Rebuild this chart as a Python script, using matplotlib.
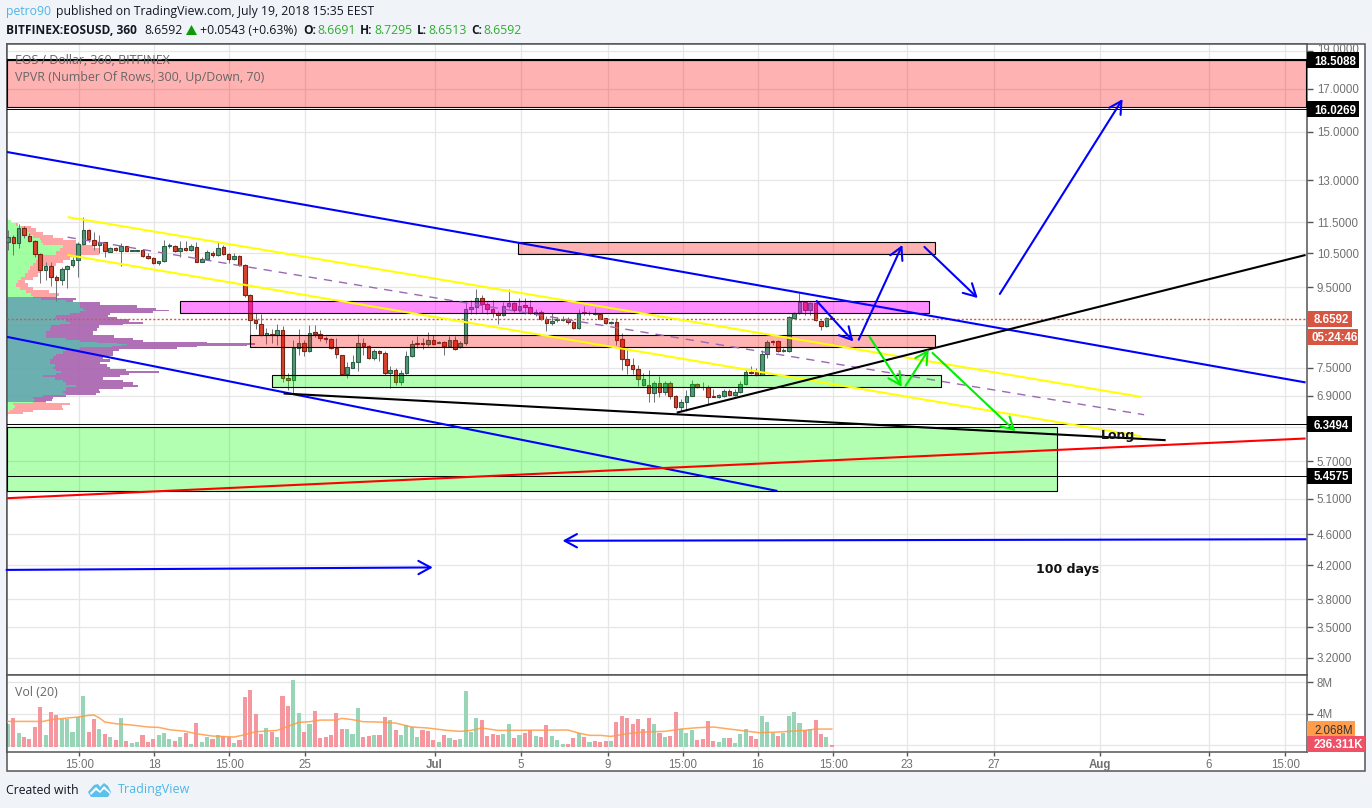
import matplotlib
matplotlib.use("Agg")
import matplotlib.pyplot as plt
import numpy as np
from matplotlib.patches import Rectangle, Polygon
from matplotlib.ticker import NullFormatter, NullLocator
from matplotlib.transforms import ScaledTranslation

W, H = 1372, 808
opens = [10.83,11.02,10.81,11.30,11.04,10.89,10.47,9.99,10.10,9.78,
 9.69,10.02,10.13,10.28,10.78,11.25,10.92,10.75,10.84,10.54,
 10.65,10.56,10.71,10.56,10.56,10.58,10.40,10.34,10.19,10.25,
 10.71,10.71,10.56,10.65,10.59,10.68,10.24,10.33,10.50,10.44,
 10.68,10.47,10.31,10.40,10.13,9.28,8.62,8.52,8.25,8.28,
 8.26,8.38,7.28,7.23,7.95,8.06,7.87,8.33,8.27,8.18,
 8.16,7.95,7.78,7.35,7.50,7.62,8.06,7.98,7.72,7.87,
 7.83,7.38,7.45,7.18,7.38,7.76,8.05,8.05,8.03,8.13,
 8.07,8.08,7.98,8.13,7.96,8.06,8.91,8.96,9.20,9.03,
 8.91,8.81,8.74,8.99,9.06,8.89,9.01,8.96,8.77,8.84,
 8.65,8.55,8.62,8.62,8.65,8.58,8.42,8.82,8.81,8.79,
 8.77,8.67,8.54,8.57,8.16,7.69,7.55,7.47,7.12,7.12,
 6.97,7.16,6.99,7.16,6.90,6.68,6.78,6.90,7.15,7.09,
 7.08,6.89,6.87,6.90,7.01,6.91,6.98,7.15,7.41,7.40,
 7.34,7.81,8.11,8.11,7.87,7.88,8.68,8.80,9.09,8.89,
 9.06,8.61,8.47,8.6691]
highs = [11.22,11.07,11.44,11.37,11.13,10.91,10.50,10.24,10.24,9.85,
 10.09,10.14,10.39,10.86,11.67,11.27,11.16,11.08,10.86,10.70,
 10.70,10.81,10.72,10.59,10.60,10.60,10.50,10.37,10.27,10.91,
 10.81,10.75,10.88,10.88,10.78,10.86,10.39,10.60,10.55,10.86,
 10.75,10.50,10.50,10.45,10.17,9.30,8.80,8.79,8.43,8.39,
 8.52,8.47,7.38,8.14,8.40,8.14,8.50,8.50,8.38,8.22,
 8.18,8.18,7.79,7.63,7.79,8.28,8.18,8.02,7.92,7.90,
 7.87,7.53,7.49,7.44,7.87,8.14,8.22,8.18,8.33,8.25,
 8.12,8.12,8.22,8.22,8.12,9.06,9.15,9.45,9.27,9.10,
 9.15,8.85,9.10,9.45,9.10,9.20,9.20,9.15,8.91,8.88,
 8.73,8.80,8.71,8.73,8.70,8.60,8.91,8.98,8.86,8.94,
 8.81,8.68,8.61,8.68,8.30,7.94,7.71,7.56,7.38,7.44,
 7.21,7.31,7.21,7.21,6.92,6.83,7.02,7.24,7.17,7.18,
 7.13,7.05,6.94,7.05,7.05,7.05,7.21,7.47,7.54,7.49,
 7.90,8.14,8.14,8.14,7.94,8.73,8.84,9.35,9.10,9.10,
 9.10,8.63,8.70,8.7295]
lows = [10.60,10.45,10.65,10.97,10.86,10.37,9.61,9.70,9.52,9.12,
 9.56,9.47,10.09,9.80,10.76,10.86,10.60,10.50,10.39,10.52,
 10.55,10.12,10.55,10.55,10.55,10.37,10.32,10.17,10.15,10.23,
 10.65,10.52,10.39,10.55,10.55,10.22,10.22,10.31,10.39,10.42,
 10.45,10.19,10.29,10.11,9.24,8.22,8.39,8.22,8.04,8.06,
 8.02,7.19,7.03,6.96,7.79,7.75,7.85,8.20,8.10,8.06,
 7.92,7.71,7.34,7.28,7.49,7.42,7.79,7.70,7.67,7.64,
 7.33,7.07,7.13,7.13,7.35,7.73,7.94,7.91,7.98,8.01,
 8.05,7.79,7.97,7.90,7.95,8.02,8.78,8.78,8.80,8.78,
 8.71,8.53,8.72,8.94,8.84,8.84,8.78,8.78,8.72,8.63,
 8.34,8.49,8.57,8.59,8.53,8.40,8.40,8.74,8.75,8.74,
 8.64,8.52,8.52,8.02,7.44,7.35,7.35,7.10,7.10,6.77,
 6.78,6.88,6.91,6.83,6.65,6.60,6.61,6.89,7.06,7.02,
 6.71,6.87,6.85,6.88,6.90,6.89,6.97,7.13,7.35,7.32,
 7.33,7.72,8.02,7.85,7.86,7.86,8.65,8.78,8.74,8.75,
 8.60,8.38,8.45,8.6513]
closes = [11.02,10.81,11.30,11.06,10.89,10.47,9.99,10.10,9.78,9.69,
 10.02,10.10,10.28,10.78,11.25,10.93,10.75,10.84,10.56,10.65,
 10.59,10.71,10.56,10.58,10.58,10.42,10.34,10.19,10.25,10.71,
 10.75,10.56,10.65,10.59,10.71,10.24,10.33,10.53,10.44,10.65,
 10.47,10.31,10.40,10.13,9.28,8.62,8.55,8.25,8.30,8.25,
 8.38,7.28,7.23,7.95,8.06,7.87,8.30,8.27,8.18,8.15,
 7.94,7.81,7.35,7.51,7.62,8.06,7.98,7.72,7.87,7.82,
 7.38,7.45,7.18,7.38,7.76,8.04,8.03,8.03,8.13,8.03,
 8.09,7.98,8.13,7.92,8.06,8.91,8.96,9.20,9.03,8.90,
 8.80,8.74,8.99,9.06,8.89,8.99,8.97,8.80,8.84,8.65,
 8.55,8.60,8.64,8.64,8.57,8.42,8.80,8.80,8.80,8.80,
 8.66,8.55,8.57,8.13,7.69,7.55,7.46,7.25,7.25,6.97,
 7.16,6.99,7.16,6.90,6.68,6.78,6.90,7.15,7.09,7.08,
 6.88,6.87,6.91,7.01,6.92,6.98,7.15,7.40,7.39,7.34,
 7.81,8.09,8.09,7.87,7.90,8.70,8.80,9.09,8.89,9.06,
 8.62,8.47,8.67,8.6592]

volume = [2.92,3.68,1.78,1.27,1.02,2.54,5.08,1.52,4.44,4.06,3.55,3.55,1.90,3.81,6.47,1.90,3.55,2.28,1.65,1.27,
 0.89,3.68,0.76,0.51,0.63,1.52,0.63,1.02,1.52,1.78,1.02,0.76,1.27,1.78,0.38,3.05,0.63,1.27,1.02,1.52,
 1.40,1.27,0.51,0.89,6.35,7.23,4.19,1.65,2.41,1.90,1.27,6.47,5.20,8.50,4.31,1.90,2.92,4.57,1.14,1.27,
 1.52,4.31,2.28,2.28,1.65,4.95,1.27,1.40,1.52,1.52,3.81,3.43,2.16,1.52,2.79,2.54,1.27,2.16,2.03,
 0.89,0.63,1.52,1.14,0.89,1.02,7.11,1.90,3.68,3.43,1.40,1.65,1.52,1.65,2.92,1.14,1.52,1.78,2.16,1.40,
 1.27,2.79,1.40,0.89,0.38,0.38,1.14,1.78,1.27,0.63,0.76,0.63,0.76,0.76,3.17,3.93,3.68,2.92,3.55,2.28,
 3.68,2.92,1.78,1.27,1.40,4.44,2.28,1.78,2.16,0.89,1.02,3.30,0.76,0.63,1.14,1.14,0.51,1.65,2.28,1.40,
 1.02,3.93,3.17,1.78,1.40,1.73,3.93,4.44,3.05,2.16,2.28,3.43,1.65,1.27,0.25]
volume_side = ("grgrrrrgrr" "gggggrrgrg" "rgrggrrrgg" "grgrgrggrg" "rrgrrrrrgr" "grrggrgrrr" "rrrgggrrgr" "rgrggggrr"
 "rgrgrggggr" "rrrggrgrrg" "rrgggrrgrg" "rrrgrrrrrr" "rgrgrrgggr" "rrrggrgggr" "rgggrggggr" "grrgr")
ma_index = [0,6.5,8,11,13,15,16,17,18,20,23,26,28,30,33,35,38,42,44,46,50,52,54,56,58,61,62,64,66,69,72,75,78,
 81.5,84,86,88,91,104,106,108,110,112,115,118,122,125,128,131,134,137,139.5,143,146,148,150,153]
ma_value = [3.21,3.21,3.43,3.64,3.76,3.98,4.02,3.64,3.13,2.92,2.75,2.50,2.45,2.16,1.95,1.65,1.35,1.23,1.52,1.90,2.07,2.58,3.09,3.17,3.38,3.38,3.60,3.43,3.17,3.13,3.00,2.50,2.37,
 2.07,1.95,2.07,2.37,2.07,2.12,1.73,1.44,1.44,1.31,1.65,1.86,1.95,2.24,2.41,2.50,2.24,1.99,1.78,1.86,1.99,2.07,2.24,2.24]

vp_price = [11.63,11.52,11.41,11.33,11.24,11.13,11.02,10.93,10.86,10.79,10.70,10.60,10.50,10.39,10.34,10.24,10.14,10.05,9.95,9.85,9.75,9.65,9.56,9.47,9.38,9.29,
 9.22,9.17,9.11,9.05,8.98,8.91,8.88,8.84,8.79,8.73,8.67,8.61,8.56,8.51,8.47,8.39,8.30,8.22,8.16,8.10,8.07,8.05,8.03,8.01,7.99,7.95,7.91,7.84,7.79,7.73,7.67,7.60,7.54,7.49,7.44,7.40,7.36,7.31,7.26,7.21,7.16,7.11,7.06,7.02,6.98,6.93,6.89,6.85,6.81,6.77,
 6.74,6.69,6.64,6.60,6.56,6.53]
vp_up = [1,4,9,14,21,23,26,33,34,36,56,53,49,34,36,29,26,23,21,18,14,11,9,13,19,24,
 26,34,59,73,73,76,79,73,63,49,48,59,63,53,44,43,39,39,59,73,90,110,120,115,105,73,59,56,49,46,43,43,48,46,49,54,49,36,48,56,59,69,59,59,56,59,36,26,28,26,
 6,8,6,3,1,0]
vp_down = [0,0,2,10,8,13,20,23,35,37,30,40,43,35,27,27,23,13,13,13,12,7,12,13,23,28,
 23,35,7,20,57,73,83,73,40,52,62,63,73,63,48,47,47,68,67,63,110,138,128,125,85,97,53,50,57,50,60,50,52,57,70,98,73,77,48,60,67,62,57,33,37,30,23,20,17,13,
 57,47,50,23,15,1]
value_area = (6.77, 9.22)

price_ticks = [19.0,17.0,15.0,13.0,11.5,10.5,9.5,8.5,7.5,6.9,6.3,5.7,5.1,4.6,4.2,3.8,3.5,3.2]
price_labels = ["19.0000","17.0000","15.0000","13.0000","11.5000","10.5000","9.5000","","7.5000","6.9000","","5.7000","5.1000","4.6000","4.2000","3.8000","3.5000","3.2000"]
date_pos = [13.26,27.19,41.11,55.23,79.26,95.23,111.38,125.31,139.24,153.28,166.96,183.1,202.8,223.0,237.2]
date_labels = ["15:00","18","15:00","25","Jul","5","9","15:00","16","15:00","23","27","Aug","6","15:00"]

lines_blue = [((-0.25,14.13),(240.98,7.18)), ((-0.25,8.21),(142.9,5.22))]
line_red = ((-0.25,5.11),(240.98,6.09))
lines_black = [((51.2,6.95),(215.0,6.06)), ((124.2,6.57),(240.98,10.44))]
lines_yellow = [((11.08,11.67),(210.5,6.88)), ((11.08,10.44),(210.5,6.13))]
line_mid = ((11.08,11.0),(211.0,6.53))
zones = [ # x0, x1, p_low, p_high, color
 (-0.25,240.98,16.10,18.5088,"#ff0000"),
 (-0.25,194.9,5.22,6.30,"#00ff00"),
 (31.9,171.0,8.81,9.12,"#ff00ff"),
 (44.9,172.1,7.96,8.25,"#ff0000"),
 (49.0,173.2,7.09,7.34,"#00ff00"),
 (94.8,172.1,10.47,10.85,"#ff0000"),
]
level_lines = [18.5088,16.0269,6.3494,5.4575]
arrows_blue = [((-0.25,4.14),(78.9,4.17)),((240.98,4.53),(103.0,4.51)),((150.2,9.12),(157.0,8.10)),
 ((158.0,8.14),(166.1,10.75)),((170.2,10.69),(180.1,9.2)),((184.2,9.31),(207.0,16.5))]
arrows_green = [((160.0,8.21),(166.0,7.09)),((166.7,7.11),(171.0,7.91)),((171.7,7.83),(187.1,6.22))]

assert len(opens)==len(highs)==len(lows)==len(closes)==len(volume)==len(volume_side)==154
assert len(vp_price)==len(vp_up)==len(vp_down) and len(ma_index)==len(ma_value)

SANS = ["Open Sans","Noto Sans","DejaVu Sans"]
ARIAL = ["Liberation Sans","DejaVu Sans"]
BAR_PX = 5.385
X0 = 7.9
fig = plt.figure(figsize=(W/100,H/100),dpi=100,facecolor="#f0f3f7")
def axrect(x0,y0,x1,y1):
    return [x0/W,1-y1/H,(x1-x0)/W,(y1-y0)/H]
def fx(x): return x/W
def fy(y): return 1-y/H
FRAME="#555555"
fig.patches.append(Rectangle((fx(6.5),fy(771)),(1365-6.5)/W,(771-44)/H,transform=fig.transFigure,fc="white",ec=FRAME,lw=1.1,zorder=-1))

ax = fig.add_axes(axrect(7,44,1307,674.5))
vx = fig.add_axes(axrect(7,674.5,1307,752))
xlim = ((7-X0)/BAR_PX,(1307-X0)/BAR_PX)
GRID="#e6e6e6"
ax.set_yscale("log")
ax.set_xlim(*xlim); ax.set_ylim(3.045,19.40)
vx.set_xlim(*xlim); vx.set_ylim(-0.838,9.0)
for a in (ax,vx):
    a.set_axisbelow(True)
    for s in a.spines.values():
        s.set_color(FRAME); s.set_linewidth(1.1)
    a.set_xticks(date_pos)
    a.xaxis.grid(True,color=GRID,lw=0.9,zorder=0)
    a.yaxis.grid(True,color=GRID,lw=0.9,zorder=0)
    a.yaxis.tick_right()
ax.yaxis.set_minor_locator(NullLocator()); ax.yaxis.set_minor_formatter(NullFormatter())
ax.set_yticks(price_ticks); ax.set_yticklabels(price_labels,fontfamily=ARIAL,fontsize=8.3,color="#707070")
ax.tick_params(axis="y",length=4,color=FRAME,width=1,pad=3)
ax.tick_params(axis="x",length=0,labelbottom=False)
vx.set_yticks([0,4,8]); vx.set_yticklabels(["","4M","8M"],fontfamily=ARIAL,fontsize=8.3,color="#707070")
vx.tick_params(axis="y",length=4,color=FRAME,width=1,pad=3)
vx.set_xticklabels(date_labels,fontfamily=ARIAL,fontsize=8.3,color="#707070")
for lab,t in zip(vx.get_xticklabels(),date_labels):
    if t in ("Jul","Aug"): lab.set_fontweight("bold")
vx.tick_params(axis="x",length=3,color=FRAME,width=1,pad=2)
top_lab = ax.get_yticklabels()[0]
top_lab.set_transform(top_lab.get_transform()+ScaledTranslation(0,3/100,fig.dpi_scale_trans))

# volume profile
vp_price=np.array(vp_price); vp_up=np.array(vp_up,float); vp_down=np.array(vp_down,float)
base=xlim[0]
us=vp_up/BAR_PX; ds=(vp_up+vp_down)/BAR_PX
va=(vp_price>=value_area[0])&(vp_price<=value_area[1])
for mask,cu,cd in [(vp_price>=value_area[1],"#98ff98","#ff9c9c"),(vp_price<=value_area[0],"#98ff98","#ff9c9c"),(va,"#60a8aa","#aa64af")]:
    ax.fill_betweenx(vp_price[mask],base,base+us[mask],step="mid",color=cu,lw=0,alpha=0.92,zorder=1)
    ax.fill_betweenx(vp_price[mask],base+us[mask],base+ds[mask],step="mid",color=cd,lw=0,alpha=0.92,zorder=1)

# candles
idx=np.arange(len(opens))
o=np.array(opens);h=np.array(highs);l=np.array(lows);c=np.array(closes)
up=c>=o
ax.vlines(idx,l,h,color="#6c7278",lw=0.7,zorder=2)
ax.bar(idx[up],(c-o)[up],bottom=o[up],width=0.66,color="#53997a",edgecolor="#2a5e45",lw=0.8,zorder=3)
ax.bar(idx[~up],(o-c)[~up],bottom=c[~up],width=0.66,color="#d8432f",edgecolor="#7a2416",lw=0.8,zorder=3)

# last price
ax.axhline(closes[-1],color="#e0533f",lw=1,ls=(0,(1.5,1.5)),zorder=4)

# zones
for x0,x1,p0,p1,col in zones:
    ax.add_patch(Rectangle((x0,p0),x1-x0,p1-p0,fc=matplotlib.colors.to_rgba(col,0.3 if col!="#ff00ff" else 0.45),ec="black",lw=0.8,zorder=5))
for p in level_lines:
    ax.axhline(p,color="black",lw=0.7,zorder=6)
ax.axhline(level_lines[0],color="black",lw=1.5,zorder=6)

def draw(seg,**k):
    (a,b),(c_,d)=seg
    ax.plot([a,c_],[b,d],solid_capstyle="butt",**k)
draw(line_mid,color="#9a68b4",lw=1.0,ls=(0,(6,5)),zorder=5)
for s in lines_yellow: draw(s,color="#ffff00",lw=1.45,zorder=6)
for s in lines_blue: draw(s,color="#0000ff",lw=1.5,zorder=7)
draw(line_red,color="#ff0000",lw=1.5,zorder=7)
for s in lines_black: draw(s,color="black",lw=1.5,zorder=7)
def arrow(seg,col):
    ax.annotate("",xy=seg[1],xytext=seg[0],zorder=8,
        arrowprops=dict(arrowstyle="->,head_length=0.55,head_width=0.3",color=col,lw=1.5,shrinkA=0,shrinkB=0,mutation_scale=16))
for s in arrows_blue: arrow(s,"#0000ff")
for s in arrows_green: arrow(s,"#00ee00")

fig.text(fx(1118),fy(436),"Long",fontfamily="DejaVu Sans",fontweight="bold",fontsize=9,color="#111111",ha="center",va="center",zorder=9)
fig.text(fx(1068),fy(570),"100 days",fontfamily="DejaVu Sans",fontweight="bold",fontsize=9,color="#111111",ha="center",va="center",zorder=9)

# volume
vol=np.array(volume); side=np.array(list(volume_side))
VB=-0.165
vx.bar(idx[side=="g"],vol[side=="g"],bottom=VB,width=0.76,color="#98d4b6",lw=0,zorder=2)
vx.bar(idx[side=="r"],vol[side=="r"],bottom=VB,width=0.76,color="#f4979f",lw=0,zorder=2)
vx.plot(ma_index,np.array(ma_value)+VB,color="#ff9a45",lw=1.1,alpha=0.85,zorder=3)

# text
fig.text(fx(15),fy(60),"EOS / Dollar, 360, BITFINEX",fontfamily=SANS,fontsize=8.9,color="#666666",va="center",zorder=9)
fig.text(fx(15),fy(77),"VPVR (Number Of Rows, 300, Up/Down, 70)",fontfamily=SANS,fontsize=8.9,color="#666666",va="center",zorder=9)
fig.text(fx(15),fy(692),"Vol (20)",fontfamily=SANS,fontsize=8.9,color="#666666",va="center",zorder=9)
def htext(x,y,s,col="#131722",w="normal",size=8.8):
    fig.text(fx(x),fy(y),s,fontfamily=SANS,fontsize=size,color=col,fontweight=w,va="center",zorder=9)
htext(6,12,"petro90","#4db6e8")
htext(56,12,"published on TradingView.com, July 19, 2018 15:35 EEST")
htext(6,30,"BITFINEX:EOSUSD, 360",w="bold",size=8.6)
htext(144,30,"8.6592")
fig.patches.append(Polygon([(fx(186),fy(35)),(fx(197),fy(35)),(fx(191.5),fy(25))],closed=True,transform=fig.transFigure,fc="#0a9a0a",ec="none",zorder=9))
htext(200,30,"+0.0543 (+0.63%)")
G="#2fae2f"
for x,lab,xv,val in [(303,"O:",317,"8.6691"),(360,"H:",374,"8.7295"),(417,"L:",428,"8.6513"),(471,"C:",483,"8.6592")]:
    htext(x,30,lab,w="bold",size=8.6); htext(xv,30,val,G)
fig.text(fx(6),fy(790),"Created with",fontfamily=SANS,fontsize=8.8,color="#131722",va="center",zorder=9)
fig.text(fx(118),fy(790),"TradingView",fontfamily=SANS,fontsize=9.0,color="#4db6e8",va="center",zorder=9)
fig.patches.append(Polygon([(fx(a),fy(b)) for a,b in [(88,792),(94,785),(98,784),(100,787),(104,783),(108,786),(111,792),(108,797),(91,797)]],closed=True,transform=fig.transFigure,fc="#5cc0ec",ec="none",zorder=9))
fig.patches.append(Polygon([(fx(a),fy(b)) for a,b in [(90,793),(96,787),(100,791),(104,786),(110,792),(110,794),(104,789),(100,793),(96,790),(91,795)]],closed=True,transform=fig.transFigure,fc="white",ec="none",zorder=10))

# right labels
fig.canvas.draw()
def label(a,val,s,x1,fc,tc,w="bold",x0=1307,dy=0,tx=1314):
    yy=H-a.transData.transform((0,val))[1]+dy
    fig.patches.append(Rectangle((fx(x0),fy(yy+8)),(x1-x0)/W,16/H,transform=fig.transFigure,fc=fc,ec="none",zorder=10))
    fig.text(fx(tx),fy(yy),s,fontfamily=ARIAL,fontsize=8.3,color=tc,fontweight=w,va="center_baseline",zorder=11)
for p,s in [(18.5088,"18.5088"),(16.0269,"16.0269")]:
    label(ax,p,s,1359,"black","white")
for p,s in [(6.3494,"6.3494"),(5.4575,"5.4575")]:
    label(ax,p,s,1352,"black","white")
label(ax,8.6592,"8.6592",1352,"#d85542","white")
label(ax,8.6592,"05:24:46",1358,"#d85542","white",dy=18,tx=1311)
label(vx,2.068,"2.068M",1355,"#ff9d4d","#333333",w="normal")
label(vx,0.236,"236.311K",1365,"#ef5066","white")

fig.savefig("out.png",dpi=100,facecolor=fig.get_facecolor())
